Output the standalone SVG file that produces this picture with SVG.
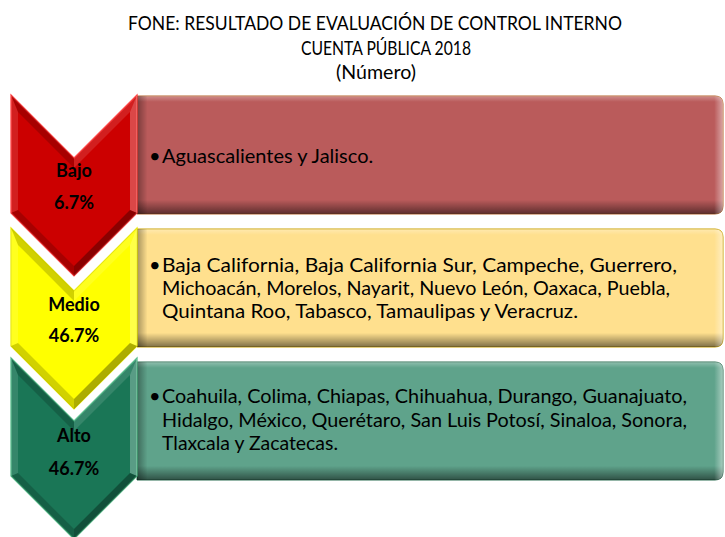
<svg xmlns="http://www.w3.org/2000/svg" xmlns:xlink="http://www.w3.org/1999/xlink" width="725" height="537" viewBox="0 0 725 537">
<style>
.title{font-family:Lato,"Liberation Sans",sans-serif;font-size:19px;fill:#000;text-anchor:middle}
.lbl{font-family:Lato,"Liberation Sans",sans-serif;font-size:18px;font-weight:bold;fill:#000;text-anchor:middle}
.body{font-family:Lato,"Liberation Sans",sans-serif;font-size:20px;fill:#000}
.red{fill:#CC0000;stroke:#FF3A3A;stroke-width:1.2}
.yel{fill:#FFFF00;stroke:#E8E800;stroke-width:1.2}
.grn{fill:#1A7656;stroke:#4DB884;stroke-width:1.2}
.rbox{fill:#BA5B5B;stroke:#B5652E;stroke-width:1}
.ybox{fill:#FFE08E;stroke:#C9A000;stroke-width:1}
.gbox{fill:#5FA38B;stroke:#2C6E52;stroke-width:1}
.hl1{fill:#fff;fill-opacity:0.12}
.hl2{fill:#fff;fill-opacity:0.28}
.sh1{fill:#000;fill-opacity:0.18}
.sh2{fill:#000;fill-opacity:0.32}
</style>
<defs>
<polygon id="chev" points="11,0 74,63 137,0 137,118 74,181 11,118"/>
<g id="chevBevel">
<polygon class="sh1" points="11,0 74,63 74,72.9 18,16.9"/>
<polygon class="hl1" points="74,63 137,0 130,16.9 74,72.9"/>
<polygon class="hl2" points="137,0 137,118 130,115.1 130,16.9"/>
<polygon class="sh2" points="137,118 74,181 74,171.1 130,115.1"/>
<polygon class="sh1" points="74,181 11,118 18,115.1 74,171.1"/>
<polygon class="hl1" points="11,118 11,0 18,16.9 18,115.1"/>
</g>
<linearGradient id="gV" x1="0" y1="0" x2="0" y2="1">
<stop offset="0" stop-color="#fff" stop-opacity="0.3"/>
<stop offset="0.05" stop-color="#fff" stop-opacity="0"/>
<stop offset="0.88" stop-color="#000" stop-opacity="0"/>
<stop offset="1" stop-color="#000" stop-opacity="0.5"/>
</linearGradient>
<linearGradient id="gH" x1="0" y1="0" x2="1" y2="0">
<stop offset="0" stop-color="#000" stop-opacity="0.35"/>
<stop offset="0.018" stop-color="#000" stop-opacity="0"/>
<stop offset="0.985" stop-color="#fff" stop-opacity="0"/>
<stop offset="1" stop-color="#fff" stop-opacity="0.45"/>
</linearGradient>
<path id="box" d="M137,0 H715 Q723,0 723,8 V110 Q723,118 715,118 H137 Z"/>
</defs>

<g id="title">
<text class="title" x="375" y="30" textLength="494" lengthAdjust="spacingAndGlyphs">FONE: RESULTADO DE EVALUACIÓN DE CONTROL INTERNO</text>
<text class="title" x="386" y="55" textLength="170" lengthAdjust="spacingAndGlyphs">CUENTA PÚBLICA 2018</text>
<text class="title" x="376" y="79" textLength="80" lengthAdjust="spacingAndGlyphs">(Número)</text>
</g>

<g id="bajo">
<g transform="translate(0,96)">
<use xlink:href="#box" class="rbox"/>
<use xlink:href="#box" fill="url(#gV)"/>
<use xlink:href="#box" fill="url(#gH)"/>
</g>
<g transform="translate(0,95)">
<use xlink:href="#chev" class="red"/>
<use xlink:href="#chevBevel"/>
</g>
<text class="lbl" x="74" y="177">Bajo</text>
<text class="lbl" x="74" y="209">6.7%</text>
<text class="body" x="149" y="163">•</text>
<text class="body" x="162" y="163">Aguascalientes y Jalisco.</text>
</g>

<g id="medio">
<g transform="translate(0,229)">
<use xlink:href="#box" class="ybox"/>
<use xlink:href="#box" fill="url(#gV)"/>
<use xlink:href="#box" fill="url(#gH)"/>
</g>
<g transform="translate(0,228)">
<use xlink:href="#chev" class="yel"/>
<use xlink:href="#chevBevel"/>
</g>
<text class="lbl" x="74" y="311">Medio</text>
<text class="lbl" x="74" y="342">46.7%</text>
<text class="body" x="149" y="272">•</text>
<text class="body" x="162" y="272" textLength="515" lengthAdjust="spacingAndGlyphs">Baja California, Baja California Sur, Campeche, Guerrero,</text>
<text class="body" x="162" y="295" textLength="508" lengthAdjust="spacingAndGlyphs">Michoacán, Morelos, Nayarit, Nuevo León, Oaxaca, Puebla,</text>
<text class="body" x="162" y="318" textLength="416" lengthAdjust="spacingAndGlyphs">Quintana Roo, Tabasco, Tamaulipas y Veracruz.</text>
</g>

<g id="alto">
<g transform="translate(0,362)">
<use xlink:href="#box" class="gbox"/>
<use xlink:href="#box" fill="url(#gV)"/>
<use xlink:href="#box" fill="url(#gH)"/>
</g>
<g transform="translate(0,358)">
<use xlink:href="#chev" class="grn"/>
<use xlink:href="#chevBevel"/>
</g>
<text class="lbl" x="74" y="442">Alto</text>
<text class="lbl" x="74" y="475">46.7%</text>
<text class="body" x="149" y="403">•</text>
<text class="body" x="162" y="403" textLength="525" lengthAdjust="spacingAndGlyphs">Coahuila, Colima, Chiapas, Chihuahua, Durango, Guanajuato,</text>
<text class="body" x="162" y="427" textLength="525" lengthAdjust="spacingAndGlyphs">Hidalgo, México, Querétaro, San Luis Potosí, Sinaloa, Sonora,</text>
<text class="body" x="162" y="450" textLength="176" lengthAdjust="spacingAndGlyphs">Tlaxcala y Zacatecas.</text>
</g>

<g id="connectors"></g>
</svg>
